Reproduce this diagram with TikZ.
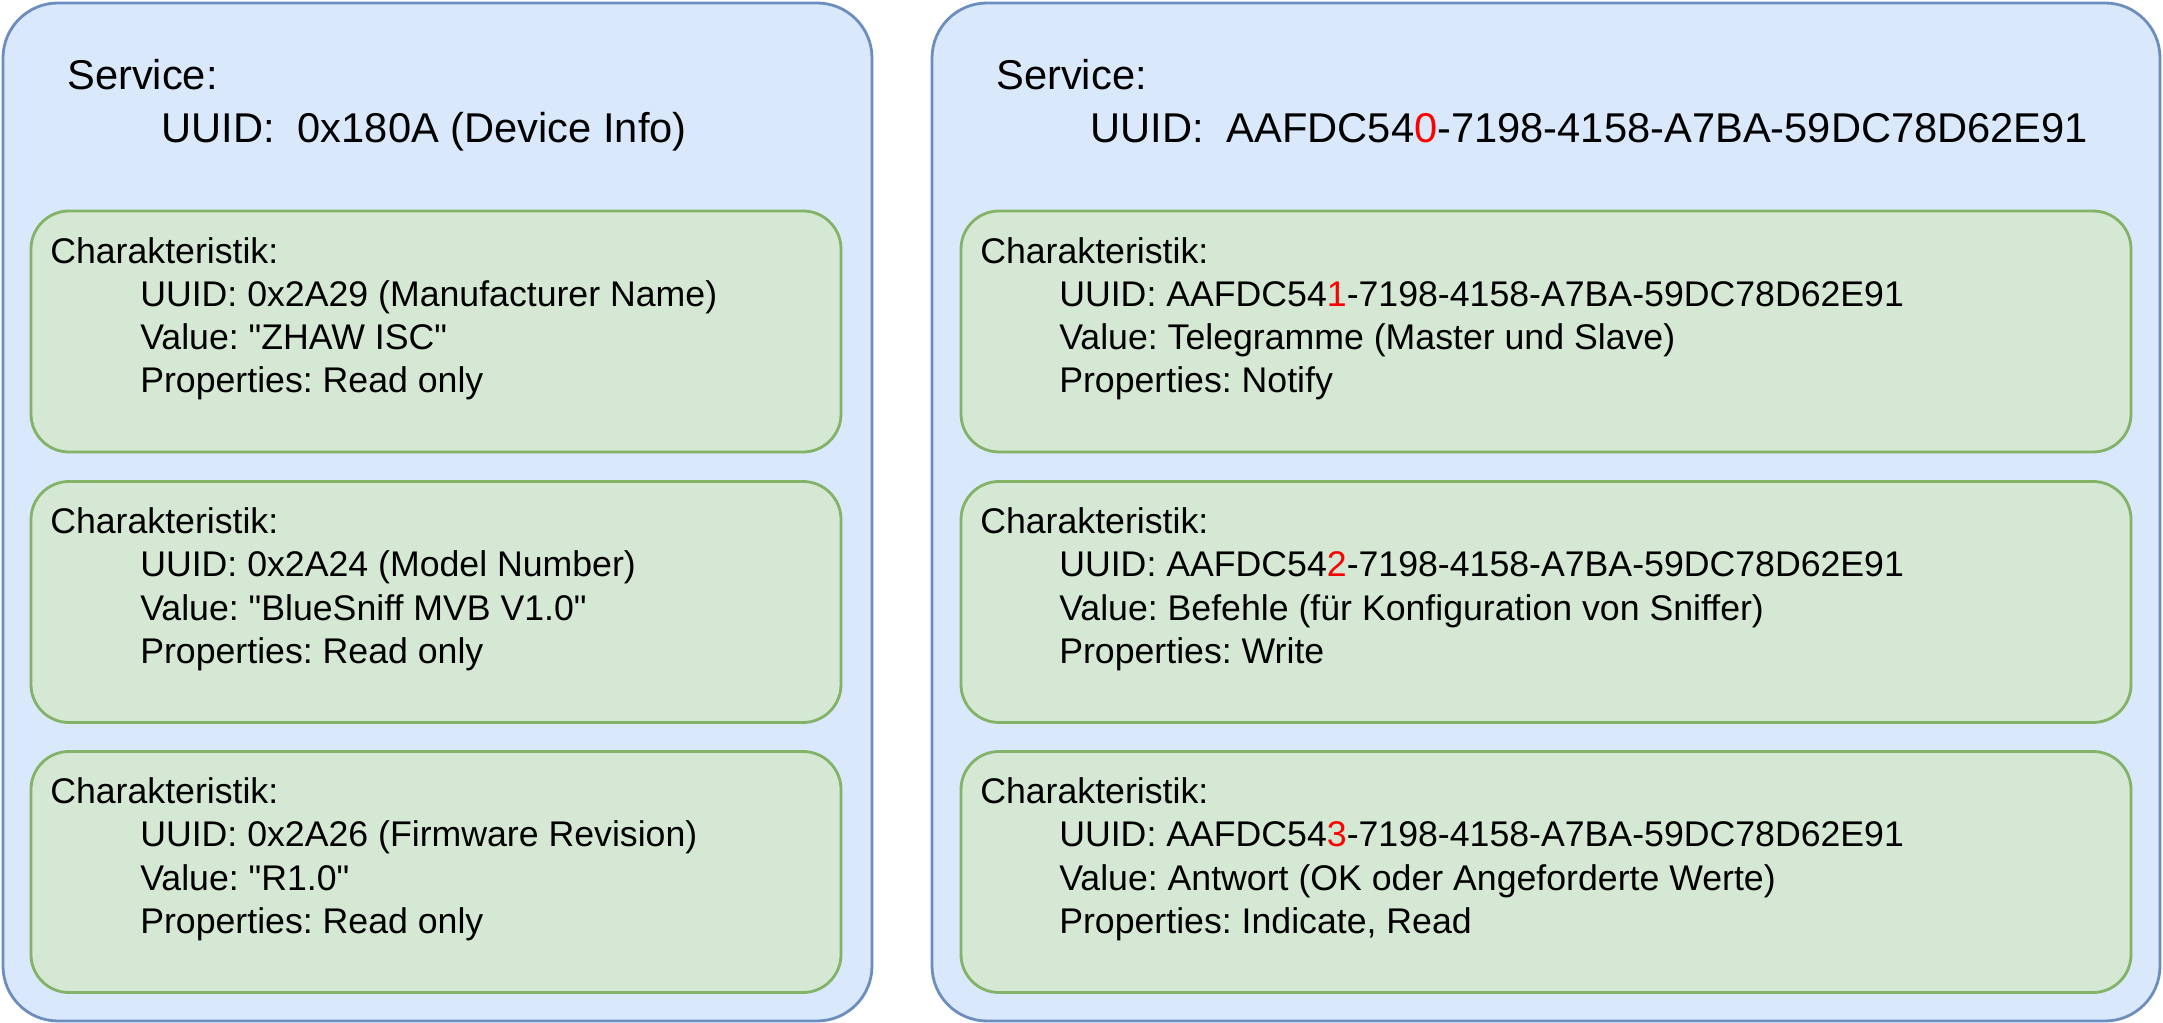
\documentclass[tikz,border=0pt]{standalone}
\usepackage{fontspec}
\setmainfont{Liberation Sans}[Ligatures=TeXOff]
\usepackage{tikz}
\usetikzlibrary{positioning,calc}
\definecolor{svcfill}{HTML}{DAE8FC}
\definecolor{svcline}{HTML}{6C8EBF}
\definecolor{chrfill}{HTML}{D5E8D4}
\definecolor{chrline}{HTML}{82B366}
\newcommand{\lind}{\hspace*{0.90cm}}
\newcommand{\rind}{\hspace*{0.79cm}}
\newcommand{\svind}{\hspace*{0.94cm}}
\newcommand{\hl}[1]{\textcolor{red}{#1}}
\frenchspacing

\begin{document}
\begin{tikzpicture}[
    svc/.style={draw=svcline, fill=svcfill, line width=0.8pt, rounded corners=0.55cm, minimum height=10.18cm},
    chr/.style={draw=chrline, fill=chrfill, line width=0.8pt, rounded corners=0.38cm, minimum height=2.41cm},
    svtxt/.style={anchor=north west, inner sep=0pt, align=left, font=\fontsize{11.85}{15}\selectfont},
    chtxt/.style={anchor=north west, inner sep=0pt, align=left, font=\fontsize{10.15}{12.3}\selectfont}
]
\useasboundingbox (0,0) rectangle (21.63,-10.23);

% left service
\node[svc, minimum width=8.69cm] (sl) at (4.375,-5.12) {};
\node[chr, minimum width=8.10cm] (cl1) at (4.36,-3.315) {};
\node[chr, minimum width=8.10cm] (cl2) at (4.36,-6.02) {};
\node[chr, minimum width=8.10cm] (cl3) at (4.36,-8.72) {};

% right service
\node[svc, minimum width=12.28cm] (sr) at (15.46,-5.12) {};
\node[chr, minimum width=11.70cm] (cr1) at (15.46,-3.315) {};
\node[chr, minimum width=11.70cm] (cr2) at (15.46,-6.02) {};
\node[chr, minimum width=11.70cm] (cr3) at (15.46,-8.72) {};

\node[svtxt] (tsl) at ([shift={(0.65,-0.575)}]sl.north west) {Service:\\\svind UUID:\ \ 0x180A (Device Info)};
\node[svtxt] (tsr) at ([shift={(0.65,-0.575)}]sr.north west) {Service:\\\svind UUID:\ \ AAFDC54\hl{0}-7198-4158-A7BA-59DC78D62E91};

\node[chtxt] (tl1) at ([shift={(0.20,-0.27)}]cl1.north west) {Charakteristik:\\\lind UUID: 0x2A29 (Manufacturer Name)\\\lind Value: "ZHAW ISC"\\\lind Properties: Read only};
\node[chtxt] (tl2) at ([shift={(0.20,-0.27)}]cl2.north west) {Charakteristik:\\\lind UUID: 0x2A24 (Model Number)\\\lind Value: "BlueSniff MVB V1.0"\\\lind Properties: Read only};
\node[chtxt] (tl3) at ([shift={(0.20,-0.27)}]cl3.north west) {Charakteristik:\\\lind UUID: 0x2A26 (Firmware Revision)\\\lind Value: "R1.0"\\\lind Properties: Read only};

\node[chtxt] (tr1) at ([shift={(0.20,-0.27)}]cr1.north west) {Charakteristik:\\\rind UUID: AAFDC54\hl{1}-7198-4158-A7BA-59DC78D62E91\\\rind Value: Telegramme (Master und Slave)\\\rind Properties: Notify};
\node[chtxt] (tr2) at ([shift={(0.20,-0.27)}]cr2.north west) {Charakteristik:\\\rind UUID: AAFDC54\hl{2}-7198-4158-A7BA-59DC78D62E91\\\rind Value: Befehle (für Konfiguration von Sniffer)\\\rind Properties: Write};
\node[chtxt] (tr3) at ([shift={(0.20,-0.27)}]cr3.north west) {Charakteristik:\\\rind UUID: AAFDC54\hl{3}-7198-4158-A7BA-59DC78D62E91\\\rind Value: Antwort (OK oder Angeforderte Werte)\\\rind Properties: Indicate, Read};
\end{tikzpicture}
\end{document}
